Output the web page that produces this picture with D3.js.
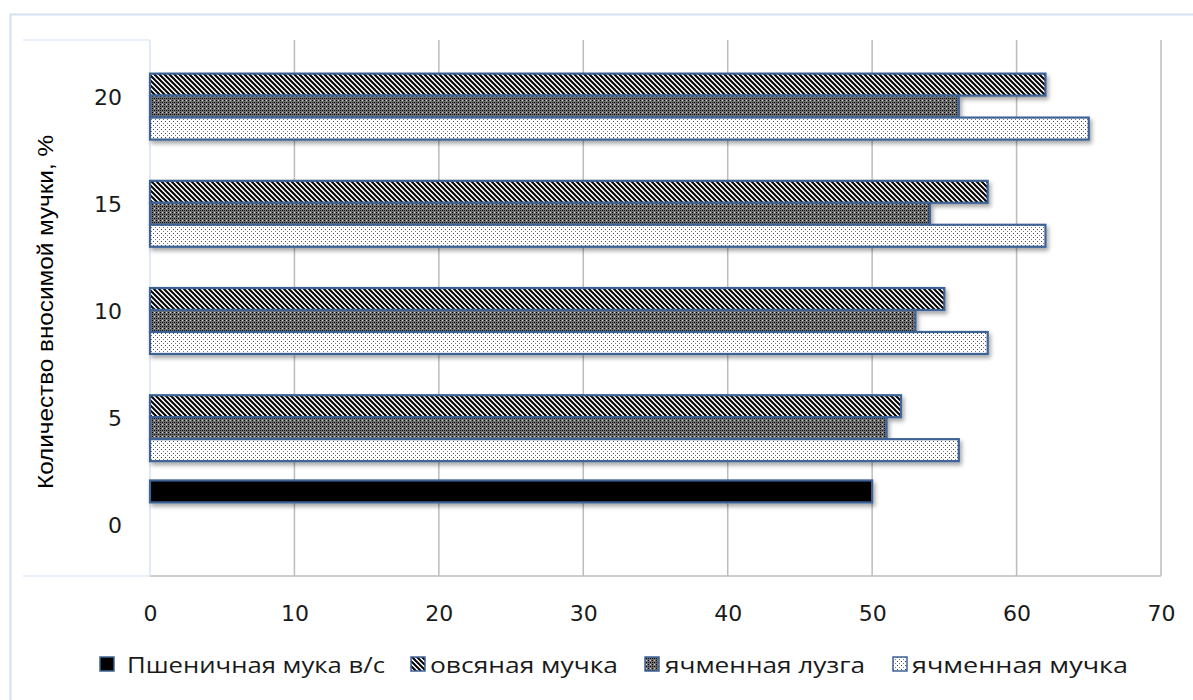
<!DOCTYPE html>
<html>
<head>
<meta charset="utf-8">
<script src="https://cdn.jsdelivr.net/npm/d3@7/dist/d3.min.js"></script>
<style>
  html, body { margin: 0; padding: 0; background: #fff; }
  svg { display: block; }
</style>
</head>
<body>
<svg id="chart" width="1193" height="700"></svg>
<script>
// Amount of added flour, % (category axis, bottom to top)
const categories = [0, 5, 10, 15, 20];
// Series values per category (null = no bar)
const wheatFlour   = [50, null, null, null, null];   // Пшеничная мука в/с
const oatFlour     = [null, 52, 55, 58, 62];          // овсяная мучка
const barleyHusk   = [null, 51, 53, 54, 56];          // ячменная лузга
const barleyFlour  = [null, 56, 58, 62, 65];          // ячменная мучка
const seriesNames  = ["Пшеничная мука в/с", "овсяная мучка", "ячменная лузга", "ячменная мучка"];
const xTicks       = [0, 10, 20, 30, 40, 50, 60, 70];
const yTitle       = "Количество вносимой мучки, %";

const seriesValues = [wheatFlour, oatFlour, barleyHusk, barleyFlour];
const seriesKeys = ["wheat", "oat", "husk", "barley"];
const fills = ["#000", "url(#pOat)", "url(#pHusk)", "url(#pBarley)"];

const svg = d3.select("#chart");
const defs = svg.append("defs");

// Fill patterns
const pOat = defs.append("pattern").attr("id", "pOat")
  .attr("patternUnits", "userSpaceOnUse").attr("width", 5).attr("height", 5);
pOat.append("rect").attr("width", 5).attr("height", 5).attr("fill", "#fff");
pOat.append("path").attr("d", "M-1,-1 L6,6 M-1,4 L1,6 M4,-1 L6,1")
  .attr("stroke", "#000").attr("stroke-width", 2);

const pHusk = defs.append("pattern").attr("id", "pHusk")
  .attr("patternUnits", "userSpaceOnUse").attr("width", 4).attr("height", 4);
pHusk.append("rect").attr("width", 4).attr("height", 4).attr("fill", "#6e6e6e");
pHusk.append("rect").attr("x", 0).attr("y", 0).attr("width", 1).attr("height", 1).attr("fill", "#000");
pHusk.append("rect").attr("x", 2).attr("y", 2).attr("width", 1).attr("height", 1).attr("fill", "#000");
pHusk.append("rect").attr("x", 2).attr("y", 0).attr("width", 1).attr("height", 1).attr("fill", "#d0d0d0");
pHusk.append("rect").attr("x", 0).attr("y", 2).attr("width", 1).attr("height", 1).attr("fill", "#1a1a1a");

const pBarley = defs.append("pattern").attr("id", "pBarley")
  .attr("patternUnits", "userSpaceOnUse").attr("width", 4).attr("height", 4);
pBarley.append("rect").attr("width", 4).attr("height", 4).attr("fill", "#fff");
pBarley.append("rect").attr("x", 1).attr("y", 1).attr("width", 1).attr("height", 1).attr("fill", "#444");
pBarley.append("rect").attr("x", 3).attr("y", 3).attr("width", 1).attr("height", 1).attr("fill", "#777");

// Soft drop shadow under the bars
const f = defs.append("filter").attr("id", "shadow")
  .attr("x", "-5%").attr("y", "-30%").attr("width", "110%").attr("height", "180%");
f.append("feDropShadow").attr("dx", 2).attr("dy", 3).attr("stdDeviation", 2)
  .attr("flood-color", "#000").attr("flood-opacity", 0.35);

// Outer chart border
svg.append("rect").attr("x", 10.5).attr("y", 14.5).attr("width", 1200).attr("height", 720)
  .attr("fill", "none").attr("stroke", "#d5e2f2").attr("stroke-width", 2);

const plot = { left: 150, right: 1161, top: 40, bottom: 576 };

const x = d3.scaleLinear().domain([0, 70]).range([plot.left, plot.right]);
const y = d3.scaleBand().domain(categories).range([plot.bottom + 2, plot.top + 2])
  .paddingInner(0.18).paddingOuter(0.09);
const ySub = d3.scaleBand().domain(seriesKeys).range([0, y.bandwidth()]);

// Faint frame around the label area
svg.append("path")
  .attr("d", `M23,${plot.top} H${plot.left} M23,${plot.bottom} H${plot.left}`)
  .attr("stroke", "#e3ebf5").attr("stroke-width", 1.5).attr("fill", "none");

// Vertical gridlines
svg.append("g").selectAll("line").data(xTicks.slice(1)).join("line")
  .attr("x1", d => x(d)).attr("x2", d => x(d))
  .attr("y1", plot.top).attr("y2", plot.bottom)
  .attr("stroke", "#bcbcbc").attr("stroke-width", 1.5);
// Value axis baseline and category axis line
svg.append("line").attr("x1", x(0)).attr("x2", x(70)).attr("y1", plot.bottom).attr("y2", plot.bottom)
  .attr("stroke", "#bcbcbc").attr("stroke-width", 1.5);
svg.append("line").attr("x1", x(0)).attr("x2", x(0)).attr("y1", plot.top).attr("y2", plot.bottom)
  .attr("stroke", "#d8e4f2").attr("stroke-width", 1.5);

// Bars
const barData = [];
seriesValues.forEach((vals, si) => {
  vals.forEach((v, ci) => {
    if (v != null) barData.push({ cat: categories[ci], key: seriesKeys[si], value: v, fill: fills[si] });
  });
});
svg.append("g").attr("filter", "url(#shadow)")
  .selectAll("rect").data(barData).join("rect")
  .attr("x", x(0))
  .attr("y", d => y(d.cat) + ySub(d.key))
  .attr("width", d => x(d.value) - x(0))
  .attr("height", ySub.bandwidth())
  .attr("fill", d => d.fill)
  .attr("stroke", "#3d6396").attr("stroke-width", 2.2);

// X axis labels
const xAxis = d3.axisBottom(x).tickValues(xTicks).tickSize(0).tickPadding(0);
const gx = svg.append("g").attr("transform", `translate(0,${plot.bottom + 29})`).call(xAxis);
gx.select(".domain").remove();
gx.selectAll("text").attr("font-family", "DejaVu Sans").attr("font-size", 22)
  .attr("fill", "#1a1a1a").attr("dy", "0.71em");

// Y axis labels
const yAxis = d3.axisLeft(y).tickSize(0).tickPadding(0);
const gy = svg.append("g").attr("transform", `translate(${plot.left - 28},2)`).call(yAxis);
gy.select(".domain").remove();
gy.selectAll("text").attr("font-family", "DejaVu Sans").attr("font-size", 22)
  .attr("fill", "#1a1a1a");

// Y axis title
svg.append("text")
  .attr("transform", `translate(53,312) rotate(-90)`)
  .attr("text-anchor", "middle")
  .attr("font-family", "Liberation Sans").attr("font-size", 22)
  .attr("textLength", 354).attr("lengthAdjust", "spacingAndGlyphs")
  .attr("fill", "#000")
  .text(yTitle);

// Legend
const legendSwatchX = [100, 411, 645, 893];
const legendTextX = [127, 430, 665, 912];
const legendTextW = [258, 188, 200, 216];
const legend = svg.append("g");
seriesNames.forEach((name, i) => {
  legend.append("rect").attr("x", legendSwatchX[i]).attr("y", 657)
    .attr("width", 14).attr("height", 14)
    .attr("fill", fills[i]).attr("stroke", "#3d6396").attr("stroke-width", 1.5);
  legend.append("text").attr("x", legendTextX[i]).attr("y", 673)
    .attr("font-family", "Open Sans").attr("font-size", 21)
    .attr("textLength", legendTextW[i]).attr("lengthAdjust", "spacingAndGlyphs")
    .attr("fill", "#1a1a1a")
    .text(name);
});
</script>
</body>
</html>
